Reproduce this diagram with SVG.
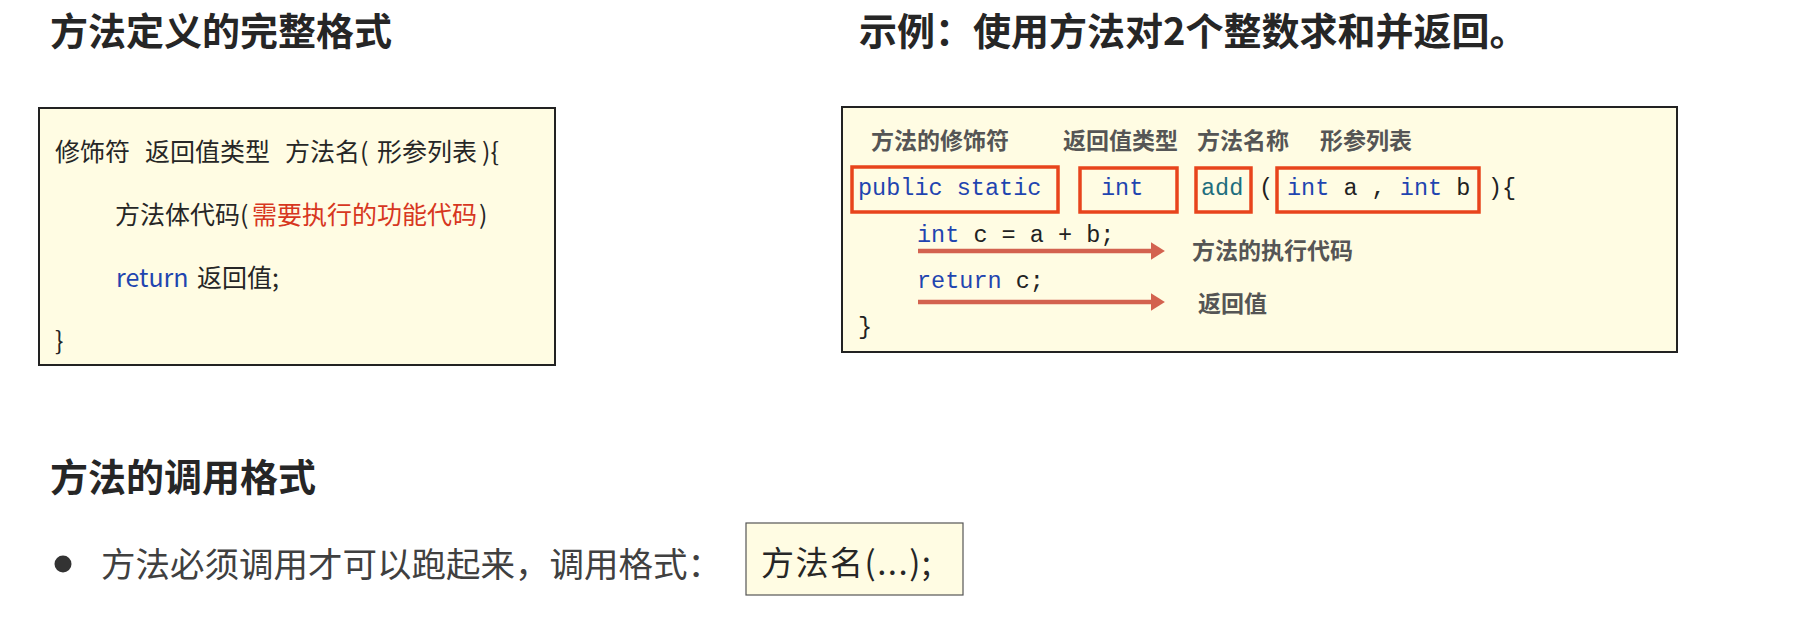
<svg xmlns="http://www.w3.org/2000/svg" width="1798" height="638" viewBox="0 0 1798 638">
<defs>
<style>
.title{font-family:"Noto Sans CJK SC","Liberation Sans",sans-serif;font-weight:bold;font-size:38px;fill:#262626}
.cn{font-family:"Noto Sans CJK SC","Liberation Sans",sans-serif;font-size:25px;fill:#262626}
.mono{font-family:"Liberation Mono","DejaVu Sans Mono",monospace;font-size:23.5px;fill:#222}
.lbl{font-family:"Noto Sans CJK SC","Liberation Sans",sans-serif;font-weight:bold;font-size:23px;fill:#555}
.red{fill:#D7371F}
.kw{fill:#1F45B0}
.fn{fill:#1E6E7E}
.box{fill:#FFFCE3;stroke:#222;stroke-width:2}
.hl{fill:none;stroke:#E8441C;stroke-width:3.5}
.arrow{stroke:#D3624F;stroke-width:4.5;fill:none}
.body{font-family:"Noto Sans CJK SC","Liberation Sans",sans-serif;font-size:34.5px;fill:#404040}
</style>
<marker id="ah" markerWidth="4" markerHeight="4" refX="1" refY="2" orient="auto" markerUnits="strokeWidth">
<path d="M0,0 L3.2,2 L0,4 Z" fill="#D3624F"/>
</marker>
</defs>
<rect width="1798" height="638" fill="#fff"/>

<g id="title-definition">
<text class="title" x="50" y="45">方法定义的完整格式</text>
</g>

<g id="definition-box">
<rect class="box" x="39" y="108" width="516" height="257"/>
<text class="cn" y="161"><tspan x="55">修饰符</tspan><tspan x="145">返回值类型</tspan><tspan x="285">方法名(</tspan><tspan x="377">形参列表</tspan><tspan x="482">){</tspan></text>
<text class="cn" y="224"><tspan x="115">方法体代码(</tspan><tspan x="252" class="red">需要执行的功能代码</tspan><tspan x="479">)</tspan></text>
<text class="cn" y="287"><tspan x="116" class="kw">return</tspan><tspan x="197">返回值;</tspan></text>
<text class="cn" x="55" y="350">}</text>
</g>

<g id="title-example">
<text class="title" x="859" y="45">示例：使用方法对2个整数求和并返回。</text>
</g>

<g id="example-box">
<rect class="box" x="842" y="107" width="835" height="245"/>
<text class="lbl" x="871" y="149">方法的修饰符</text>
<text class="lbl" x="1063" y="149">返回值类型</text>
<text class="lbl" x="1197" y="149">方法名称</text>
<text class="lbl" x="1320" y="149">形参列表</text>
<rect class="hl" x="852" y="167" width="206" height="45"/>
<rect class="hl" x="1080" y="168" width="97" height="44"/>
<rect class="hl" x="1196" y="168" width="55" height="44"/>
<rect class="hl" x="1277" y="168" width="202" height="44"/>
<text class="mono kw" x="858" y="195">public static</text>
<text class="mono kw" x="1101" y="195">int</text>
<text class="mono fn" x="1201" y="195">add</text>
<text class="mono" x="1259" y="195">(</text>
<text class="mono" x="1287" y="195"><tspan class="kw">int</tspan> a , <tspan class="kw">int</tspan> b</text>
<text class="mono" x="1488" y="195">){</text>
<text class="mono" x="917" y="242"><tspan class="kw">int</tspan> c = a + b;</text>
<text class="mono" x="917" y="288"><tspan class="kw">return</tspan> c;</text>
<text class="mono" x="858" y="334">}</text>
<text class="lbl" x="1192" y="259">方法的执行代码</text>
<text class="lbl" x="1198" y="312">返回值</text>
</g>

<g id="connectors">
<line class="arrow" x1="918" y1="251" x2="1155" y2="251" marker-end="url(#ah)"/>
<line class="arrow" x1="918" y1="302" x2="1155" y2="302" marker-end="url(#ah)"/>
</g>

<g id="title-call">
<text class="title" x="50" y="491">方法的调用格式</text>
</g>

<g id="bullet-call">
<circle cx="63" cy="564" r="8.5" fill="#333"/>
<text class="body" x="101" y="577">方法必须调用才可以跑起来，调用格式：</text>
</g>

<g id="call-box">
<rect x="746" y="523" width="217" height="72" fill="#FFFCE3" stroke="#555" stroke-width="1.2"/>
<text class="cn" style="font-size:33px" x="761" y="575" textLength="170" lengthAdjust="spacing">方法名(...);</text>
</g>
</svg>
